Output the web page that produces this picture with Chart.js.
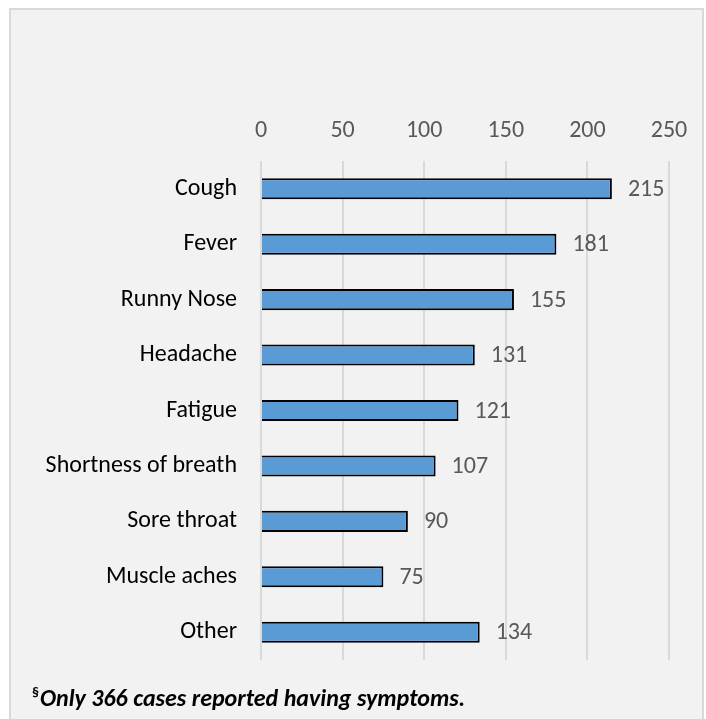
<!DOCTYPE html>
<html>
<head>
<meta charset="utf-8">
<script src="https://cdn.jsdelivr.net/npm/chart.js@4.4.1/dist/chart.umd.min.js"></script>
<style>
  html, body { margin: 0; padding: 0; background: #ffffff; width: 706px; height: 719px; overflow: hidden; }
  #box { position: absolute; left: 9px; top: 8px; width: 691px; height: 720px; background: #F2F2F2; border: 2px solid #D9D9D9; }
  #wrap { position: absolute; left: 0; top: 0; width: 706px; height: 719px; }
  #note { position: absolute; left: 32px; top: 683px; font-family: Carlito, Lato, sans-serif; font-weight: bold; font-style: italic; font-size: 24px; color: #000; white-space: nowrap; }
  #note sup { font-size: 14px; font-style: normal; font-weight: bold; vertical-align: 9px; margin-right: 1px; }
</style>
</head>
<body>
<div id="box"></div>
<div id="wrap"><canvas id="c" width="706" height="719"></canvas></div>
<div id="note"><sup>§</sup>Only 366 cases reported having symptoms.</div>
<script>
const categories = ["Cough", "Fever", "Runny Nose", "Headache", "Fatigue", "Shortness of breath", "Sore throat", "Muscle aches", "Other"];
const values = [215, 181, 155, 131, 121, 107, 90, 75, 134];
const xTicks = [0, 50, 100, 150, 200, 250];

const FONT = "Carlito, Lato, sans-serif";

const valueLabels = {
  id: 'valueLabels',
  afterDatasetsDraw(chart) {
    const ctx = chart.ctx;
    const meta = chart.getDatasetMeta(0);
    ctx.save();
    ctx.font = "24px " + FONT;
    ctx.fillStyle = "#595959";
    ctx.textAlign = "left";
    ctx.textBaseline = "middle";
    meta.data.forEach((bar, i) => {
      ctx.fillText(String(values[i]), bar.x + 16, bar.y + 1);
    });
    ctx.restore();
  }
};

new Chart(document.getElementById('c'), {
  type: 'bar',
  data: {
    labels: categories,
    datasets: [{
      data: values,
      backgroundColor: '#5B9BD5',
      borderColor: '#000000',
      borderWidth: 2,
      barPercentage: 0.38,
      categoryPercentage: 1.0
    }]
  },
  options: {
    indexAxis: 'y',
    responsive: false,
    animation: false,
    devicePixelRatio: 1,
    layout: { padding: { left: 0, right: 37, top: 0, bottom: 59 } },
    plugins: { legend: { display: false }, tooltip: { enabled: false } },
    scales: {
      x: {
        position: 'top',
        min: 0, max: 250,
        afterBuildTicks(scale) { scale.ticks = xTicks.map(v => ({ value: v })); },
        afterFit(scale) { scale.height = 161; },
        ticks: { color: '#595959', font: { family: FONT, size: 24 }, padding: 16 },
        grid: { color: '#D9D9D9', lineWidth: 2, drawTicks: false },
        border: { display: false }
      },
      y: {
        afterFit(scale) { scale.width = 261; },
        ticks: { color: '#000000', font: { family: FONT, size: 24 }, padding: 24 },
        grid: { display: false, drawTicks: false },
        border: { display: false }
      }
    }
  },
  plugins: [valueLabels]
});
</script>
</body>
</html>
